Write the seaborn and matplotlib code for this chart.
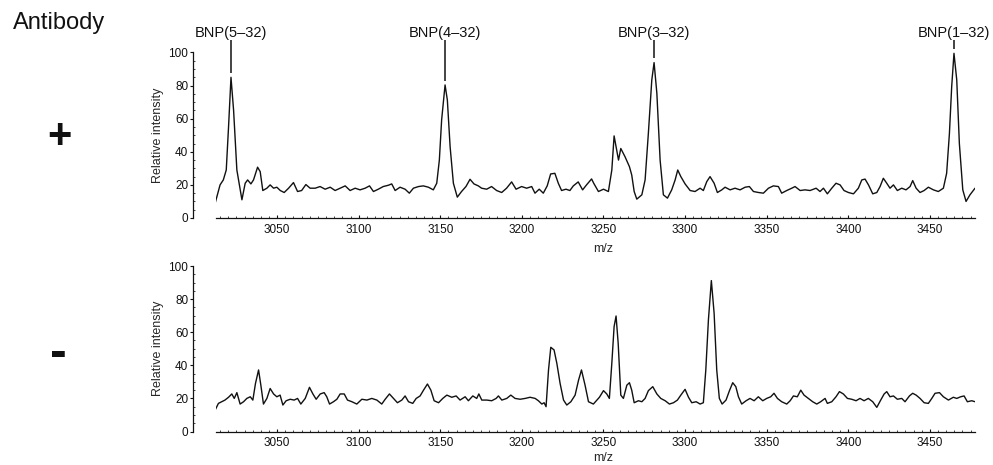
import seaborn as sns
import matplotlib.pyplot as plt
from matplotlib.ticker import MultipleLocator

# spectrum with antibody (+)
top_mz = [3012, 3015, 3017, 3018.8, 3020.2, 3021.7, 3023.3, 3025.3, 3028.4, 3030.4,
          3031.9, 3033.9, 3035.5, 3038, 3039.6, 3041.2, 3043.7, 3045.7, 3047.8, 3049.8,
          3051.9, 3054.3, 3057, 3060, 3062.5, 3065, 3067.6, 3070.2, 3073.3, 3076.3,
          3079.4, 3082.5, 3085.5, 3088.6, 3091.7, 3094.7, 3097.8, 3100.8, 3103.9, 3106.6,
          3109, 3112, 3115, 3118.2, 3120.2, 3122.3, 3125.3, 3128.4, 3131, 3133.5,
          3136.6, 3139.6, 3142.7, 3145.7, 3147.8, 3149.4, 3150.8, 3152.9, 3154.3, 3156,
          3158, 3160.4, 3163, 3165.7, 3168.2, 3170.6, 3173.3, 3175.3, 3178.4, 3181.4,
          3184.5, 3187.6, 3190.6, 3193.7, 3196.4, 3199.8, 3202.9, 3206, 3208, 3210.6,
          3213.1, 3215.5, 3217.6, 3220.2, 3222.3, 3224.3, 3227, 3229.4, 3231.5, 3234.5,
          3237.2, 3239.6, 3242.7, 3244, 3246.9, 3250, 3253, 3255.1, 3256.5, 3258.1,
          3259.2, 3260.6, 3263.2, 3265.9, 3267.3, 3268.8, 3270.4, 3273.5, 3275.5, 3277.5,
          3279.6, 3281, 3282.7, 3284.7, 3286.7, 3289.2, 3291.8, 3293.9, 3295.5, 3297.4,
          3300, 3303.1, 3306.1, 3309.2, 3311.2, 3313.3, 3315.3, 3317.8, 3319.8, 3322.5,
          3324.5, 3327.6, 3330.6, 3333.7, 3336.8, 3339.4, 3341.9, 3345, 3348, 3351.1,
          3354.1, 3357.2, 3359.2, 3362.3, 3365.4, 3367.4, 3370.5, 3373.5, 3376.6, 3380.3,
          3382.7, 3384.8, 3387.2, 3389.9, 3392.5, 3395, 3397.4, 3400.1, 3403.2, 3406.2,
          3408.3, 3410.3, 3412.4, 3415, 3417.5, 3419.5, 3421.5, 3423.6, 3425.6, 3427.7,
          3430.1, 3432.8, 3435.4, 3437.9, 3439.5, 3441.6, 3444, 3446.5, 3449.1, 3452.2,
          3455.2, 3458.3, 3460.3, 3462, 3463.4, 3464.8, 3466.5, 3468.1, 3470.2, 3472.2,
          3474.6, 3477.7]
top_int = [9, 20, 23, 29, 55, 85, 65, 29, 11, 21,
           23, 20.6, 23, 30.7, 28, 16.6, 18, 20, 18, 18.6,
           16.6, 15.4, 18, 21.4, 16, 16.6, 20.2, 18, 18, 19,
           17.4, 18.6, 16.6, 18, 19.4, 16.6, 18, 17, 18, 19.4,
           16, 17.4, 19, 19.8, 20.6, 16.6, 18.6, 17.4, 15, 18,
           19, 19.4, 18.6, 17, 21, 35, 59.3, 80.4, 71.3, 43,
           21, 12.6, 16, 19, 23.4, 20.6, 19.4, 18, 17.4, 19,
           16.6, 15.4, 18, 21.8, 17.4, 19, 18, 19, 15, 17.4,
           15, 19.4, 26.6, 27, 21, 16.6, 17.4, 16.6, 19.4, 21.8,
           17, 20, 23.6, 21, 16, 17.4, 16, 29, 49.6, 41,
           35, 42, 37, 31, 26, 16, 11.4, 14, 23, 51.2,
           83.4, 93.9, 75.4, 35, 14, 12, 17, 23, 29, 25,
           20.6, 16.6, 16, 18, 16.6, 22, 25, 21, 15.4, 17,
           18.6, 17, 18, 17, 18.6, 19, 16, 15.4, 15, 18,
           19.4, 19, 15, 16.6, 18, 19, 16.6, 17, 16.6, 18,
           16, 18, 14.6, 18, 21, 20, 16.6, 15.4, 14.6, 18,
           23, 23.5, 20, 14.6, 15.4, 19, 24, 21, 18, 20,
           16.6, 18, 17, 19, 22.6, 18, 15.4, 16.6, 18.6, 17,
           16, 18, 27, 51, 79.4, 99.5, 83.4, 45, 17, 10,
           14, 18]

# spectrum without antibody (-)
bot_mz = [3012, 3014, 3016, 3018, 3020.2, 3022.2, 3023.7, 3025.3, 3027.3, 3029.4,
          3031.4, 3033.5, 3035.1, 3036.7, 3038.6, 3040, 3041.6, 3043.7, 3045.7, 3047.8,
          3049.8, 3051.8, 3053.5, 3055.5, 3058, 3060.4, 3062.5, 3064.5, 3067.2, 3069.8,
          3071.9, 3073.9, 3076.4, 3078.8, 3080.4, 3082.1, 3084.5, 3086.6, 3088.6, 3091.1,
          3093.1, 3095.8, 3098.8, 3101.9, 3105, 3108, 3111.1, 3114.1, 3116.2, 3118.8,
          3121.3, 3123.7, 3126.4, 3128.4, 3130.5, 3133.1, 3135.2, 3137.6, 3139.7, 3142.1,
          3144.2, 3146.2, 3148.9, 3151.5, 3154, 3157, 3159.7, 3162.1, 3165.2, 3167.2,
          3169.9, 3172.3, 3173.6, 3175.4, 3178.5, 3181.5, 3184.2, 3185.6, 3187.7, 3190.7,
          3193.2, 3195.8, 3198.9, 3202, 3205, 3208.1, 3210.1, 3212.2, 3213.6, 3214.8,
          3216.3, 3217.7, 3219.7, 3221.4, 3223.4, 3225.5, 3227.5, 3230, 3232.6, 3234.7,
          3236.5, 3238.7, 3240.8, 3243.8, 3247.5, 3250, 3252, 3253.6, 3255.1, 3256.5,
          3257.7, 3259, 3260.6, 3262.2, 3264.3, 3265.9, 3267.3, 3268.8, 3271.4, 3273.5,
          3275.5, 3277.5, 3280.2, 3282.7, 3285.1, 3287.8, 3290.4, 3292.9, 3295.3, 3297.4,
          3300, 3302.1, 3304.1, 3306.8, 3309.2, 3311.2, 3312.7, 3314.3, 3316.1, 3317.8,
          3319.4, 3321, 3322.7, 3325.1, 3327.2, 3329.2, 3331.1, 3332.7, 3334.7, 3337.4,
          3339.8, 3342.3, 3344.9, 3347.6, 3350, 3352.5, 3354.5, 3356.6, 3359.2, 3362.3,
          3364.4, 3366.4, 3368.8, 3370.9, 3372.9, 3375.6, 3378.2, 3380.7, 3383.1, 3385.8,
          3387.2, 3389.9, 3392.5, 3394.6, 3397, 3399.5, 3402.1, 3404.8, 3407.2, 3409.7,
          3412.3, 3415, 3417.5, 3419.9, 3422, 3423.6, 3425.6, 3427.7, 3430.1, 3432.8,
          3434.8, 3437.5, 3439.5, 3441.6, 3444, 3446.5, 3449.1, 3451.2, 3453.2, 3455.9,
          3458.3, 3461.4, 3464.4, 3466.5, 3468.9, 3471, 3473, 3475.7, 3477.7]
bot_int = [13, 17, 18, 19, 20.7, 22.7, 20, 23.5, 16.6, 18,
           20, 21, 19, 29, 37.2, 28, 16.6, 20, 26, 22.7,
           21, 22, 16, 18.6, 19.5, 19, 20, 16.6, 20, 26.7,
           22.7, 19.5, 22.7, 23.5, 21, 16.6, 18, 19.5, 22.7, 22.7,
           19, 18, 16.6, 19.5, 19, 20, 19, 16.6, 19.5, 22.7,
           20, 17.4, 19, 21.5, 18, 17, 20, 21.5, 25, 28.7,
           25, 18.6, 17.4, 20, 22, 20.7, 21.5, 19, 21, 18.6,
           21.5, 20, 22.7, 19, 19, 18.6, 20, 21.5, 19, 20,
           22, 20, 19.5, 20, 20.7, 20, 18.6, 16.6, 17.4, 15,
           37.2, 50.9, 49.3, 41.2, 29.1, 19, 16, 18, 22, 31,
           37.2, 28, 18, 16.6, 20.7, 24.7, 22.7, 20, 41.2, 63.4,
           69.8, 53.3, 22, 20, 28, 29.5, 25, 17.4, 18.6, 18,
           20, 24.7, 27.1, 22.7, 20, 18.6, 16.6, 17.4, 19, 22,
           25.5, 20.7, 17.4, 18, 16.6, 17.4, 37.2, 67.4, 91.2, 71.4,
           37.2, 20, 16.6, 19, 24.7, 29.5, 27.1, 21, 16.6, 18.6,
           20, 18.6, 21, 18.6, 20, 21, 23.1, 20, 18, 16.6,
           18.6, 21.5, 21, 25, 22, 20, 18, 16.6, 18, 20,
           17, 18, 21, 24.1, 22.7, 20, 19.5, 18.6, 20, 18.6,
           20, 18, 14.6, 19, 22.7, 24.1, 21, 21.5, 19.5, 20,
           18, 21.5, 23.1, 22, 20, 17.4, 17, 20, 23.1, 23.5,
           21, 19, 20.7, 20, 21, 21.5, 18, 18.6, 18]

peak_names = ["BNP(5\u201332)", "BNP(4\u201332)", "BNP(3\u201332)", "BNP(1\u201332)"]
peak_mz = [3021.7, 3152.9, 3281, 3464.8]
peak_int = [85, 80.4, 93.9, 99.5]


def plot_spectrum(ax, mz, intensity, xlabel_y):
    sns.lineplot(x=mz, y=intensity, ax=ax, color='#111111', linewidth=1.0)
    ax.set_xlim(3012.5, 3477.7)
    ax.set_ylim(0, 100)
    ax.xaxis.set_major_locator(MultipleLocator(50))
    ax.xaxis.set_minor_locator(MultipleLocator(5))
    ax.yaxis.set_major_locator(MultipleLocator(20))
    ax.yaxis.set_minor_locator(MultipleLocator(5))
    ax.spines['top'].set_visible(False)
    ax.spines['right'].set_visible(False)
    ax.spines['left'].set_position(('outward', 16.5))
    for side in ['left', 'bottom']:
        ax.spines[side].set_linewidth(0.9)
        ax.spines[side].set_color('#111111')
    ax.tick_params(axis='x', which='major', direction='in', length=2.5, width=0.8,
                   pad=4, labelsize=8.5, colors='#111111')
    ax.tick_params(axis='x', which='minor', direction='in', length=1.2, width=0.6)
    ax.tick_params(axis='y', which='major', direction='out', length=2.5, width=0.8,
                   pad=1, labelsize=8.5, colors='#111111')
    ax.tick_params(axis='y', which='minor', direction='in', length=1.2, width=0.6)
    ax.set_xlabel('m/z', fontsize=9)
    ax.set_ylabel('Relative intensity', fontsize=9, labelpad=3)
    ax.xaxis.set_label_coords(0.51, xlabel_y)


def main():
    sns.set_style('ticks')
    plt.rcParams['font.family'] = ['Liberation Sans', 'DejaVu Sans']

    fig = plt.figure(figsize=(9.93, 4.65), dpi=100)
    ax_top = fig.add_axes([0.2175, 0.5312, 0.7644, 0.3559])
    ax_bot = fig.add_axes([0.2175, 0.0720, 0.7644, 0.3559])

    plot_spectrum(ax_top, top_mz, top_int, -0.15)
    plot_spectrum(ax_bot, bot_mz, bot_int, -0.125)

    # peak labels with marker lines above the top spectrum
    for name, mz, h in zip(peak_names, peak_mz, peak_int):
        ax_top.vlines(mz, h + 2.5, 107.5, color='#111111', linewidth=1.1, clip_on=False)
        ax_top.text(mz, 112, name, ha='center', va='center', fontsize=10.5,
                    color='#111111', clip_on=False)

    fig.text(13 / 993, 1 - 23 / 465, 'Antibody', fontsize=17, ha='left', va='center',
             color='#111111')
    fig.text(59 / 993, 1 - 137 / 465, '+', fontsize=30, fontweight='bold',
             ha='center', va='center', color='#111111')
    fig.text(58.5 / 993, 1 - 354 / 465, '-', fontsize=36, fontweight='bold',
             ha='center', va='center', color='#111111')

    fig.savefig('out.png', dpi=100)


if __name__ == '__main__':
    main()
